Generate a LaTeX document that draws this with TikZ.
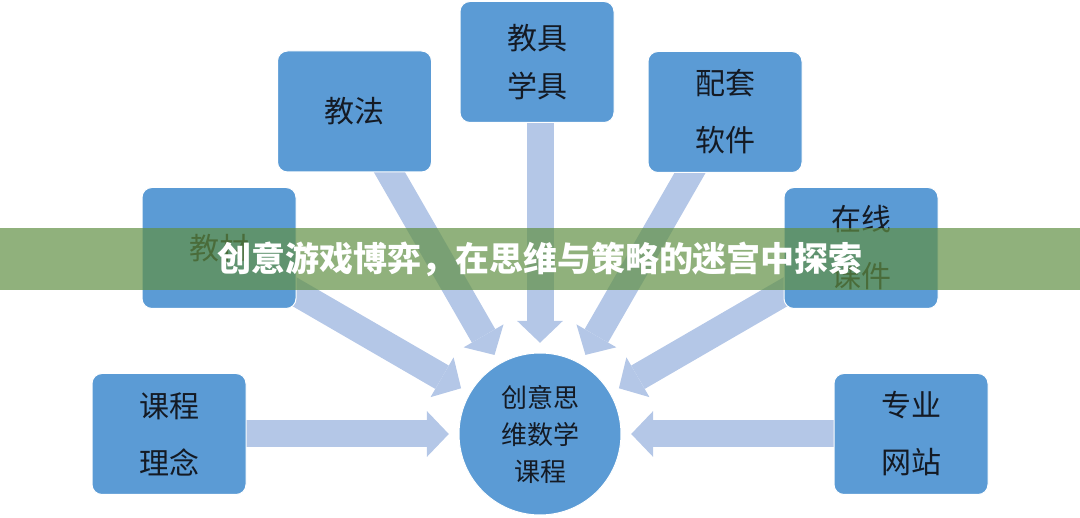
\documentclass[tikz,border=0pt]{standalone}
\usepackage{fontspec}
\setmainfont{Noto Sans CJK SC}
\usetikzlibrary{arrows.meta}
\definecolor{boxblue}{HTML}{5B9BD5}
\definecolor{arrowblue}{HTML}{B4C7E7}
\definecolor{bannergreen}{RGB}{97,144,68}
\definecolor{txt}{HTML}{141A24}
\pgfdeclarelayer{bg}
\pgfsetlayers{bg,main}
\tikzset{
  box/.style={draw=white, line width=1pt, fill=boxblue, rounded corners=10pt,
    minimum width=154pt, minimum height=121pt, inner sep=0pt, align=center,
    text=txt, font=\fontsize{30}{57}\selectfont},
  hub/.style={circle, fill=boxblue, draw=white, line width=1pt, minimum size=162pt,
    inner sep=0pt, align=center, text=txt, font=\fontsize{26}{37}\selectfont},
  ringstyle/.style={circle, minimum size=182pt, inner sep=0pt},
  blockarrow/.style={draw=arrowblue, line width=27pt,
    -{Triangle[length=22pt, width=46pt, line width=0pt]}},
  bannerstyle/.style={fill=bannergreen, fill opacity=0.7, text opacity=1,
    minimum width=1080pt, minimum height=62pt, inner sep=0pt, text=white,
    font=\fontsize{34}{38}\selectfont\bfseries},
}
\begin{document}
\begin{tikzpicture}[x=1pt,y=-1pt]
\useasboundingbox (0,0) rectangle (1080,518);
\node[hub] (c) at (540,434) {创意思\\维数学\\课程};
\node[ringstyle] (ring) at (540,434) {};
\node[box] (jc) at (219,248) {教材};
\node[box] (jf) at (354.5,111.5) {教法};
\node[box, font=\fontsize{30}{48}\selectfont] (jj) at (537,62) {教具\\学具};
\node[box] (pt) at (725,112) {配套\\软件};
\node[box] (zx) at (861,248) {在线\\课件};
\node[box] (kl) at (169,434) {课程\\理念};
\node[box] (zy) at (911,434) {专业\\网站};
\begin{pgfonlayer}{bg}
\draw[blockarrow] (jc.center) -- (ring);
\draw[blockarrow] (jf.center) -- (ring);
\draw[blockarrow] (c |- jj.center) -- (ring);
\draw[blockarrow] (pt.center) -- (ring);
\draw[blockarrow] (zx.center) -- (ring);
\draw[blockarrow] (kl.center) -- (ring);
\draw[blockarrow] (zy.center) -- (ring);
\end{pgfonlayer}
\node[bannerstyle] (banner) at (540,259) {创意游戏博弈，在思维与策略的迷宫中探索};
\end{tikzpicture}
\end{document}
